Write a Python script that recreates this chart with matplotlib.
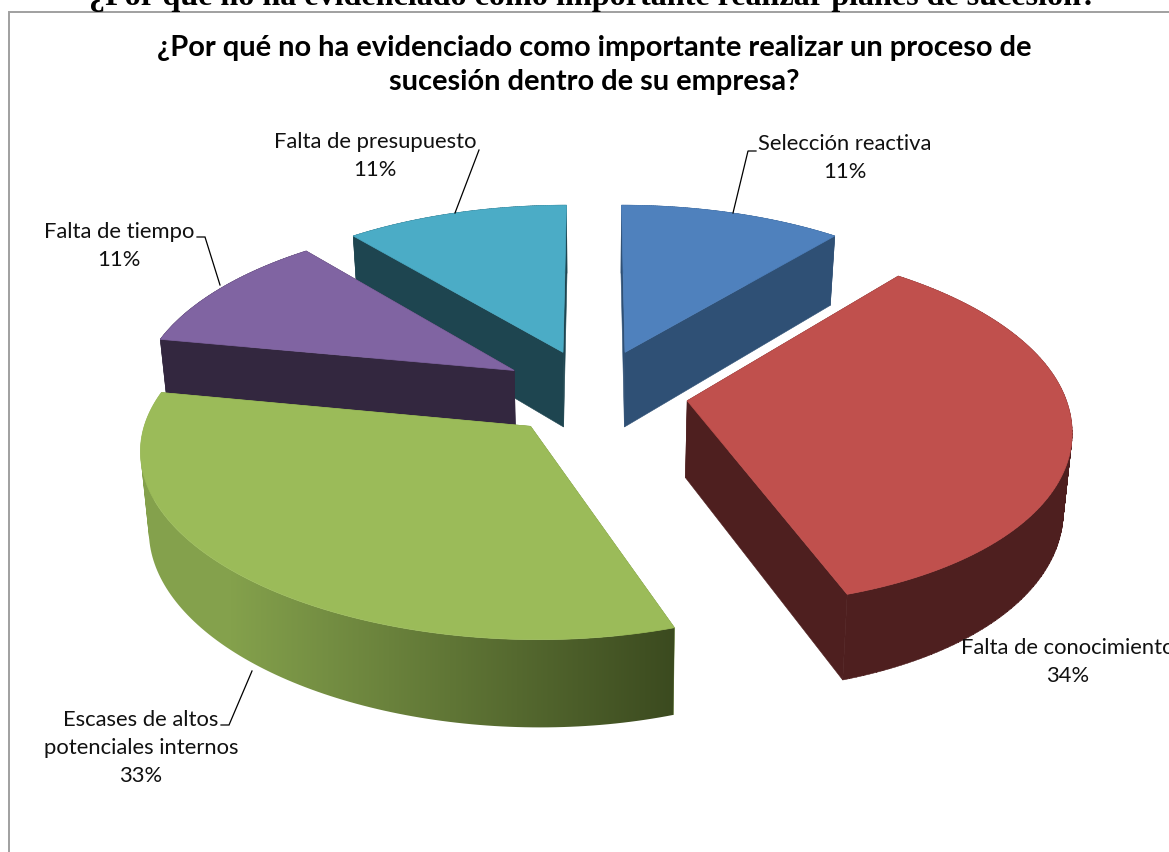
import numpy as np
import matplotlib
matplotlib.use("Agg")
import matplotlib.pyplot as plt
from matplotlib.patches import Polygon, Rectangle, PathPatch
from matplotlib.path import Path
from matplotlib.colors import to_rgb

# Survey answers, clockwise from twelve o'clock
categories = ["Selección reactiva", "Falta de conocimiento",
              "Escases de altos\npotenciales internos",
              "Falta de tiempo", "Falta de presupuesto"]
shares = [11, 34, 33, 11, 11]
top_colors = ["#4F81BD", "#C0504D", "#9BBB59", "#8064A2", "#4BACC6"]
wall_colors = ["#2F5075", "#4E1F1F", "#6B843D", "#33273F", "#1E4550"]

# Drawing order: far slices first so that near slices overlap them
paint_order = [4, 0, 3, 1, 2]

EXPLODE = 0.25
CX = 594.0
NEAR_SKEW = 13.0
TOP = dict(y0=392.5, gx=377.0, gy=176.0, persp=0.13)
BOTTOM = dict(y0=469.0, gx=370.0, gy=184.0, persp=0.13)


def project(u, v, plane):
    """Map pie-plane coordinates onto the canvas with a light perspective."""
    w = 1.0 + plane["persp"] * v
    skew = NEAR_SKEW * np.minimum(v, 0.0) ** 2
    return CX + plane["gx"] * u / w + skew, plane["y0"] - plane["gy"] * v / w


def slice_outline(start, stop, n=120):
    """Return apex and rim of one exploded slice in pie-plane coordinates."""
    mid = np.radians((start + stop) / 2)
    apex = EXPLODE * np.array([np.sin(mid), np.cos(mid)])
    theta = np.radians(np.linspace(start, stop, n))
    return apex, apex[0] + np.sin(theta), apex[1] + np.cos(theta)


def wall_path(tx, ty, bx, by):
    """Join top and bottom rims as one path of equally wound quads."""
    verts, codes = [], []
    for k in range(len(tx) - 1):
        quad = np.array([(tx[k], ty[k]), (tx[k + 1], ty[k + 1]),
                         (bx[k + 1], by[k + 1]), (bx[k], by[k])])
        x, y = quad[:, 0], quad[:, 1]
        area = np.sum(x * np.roll(y, -1) - np.roll(x, -1) * y)
        if area < 0:
            quad = quad[::-1]
        verts.extend(quad.tolist() + [quad[0].tolist()])
        codes.extend([Path.MOVETO, Path.LINETO, Path.LINETO, Path.LINETO, Path.CLOSEPOLY])
    return Path(verts, codes)


def blend(a, b, t):
    return tuple((1 - t) * p + t * q for p, q in zip(to_rgb(a), to_rgb(b)))


def green_shade(x):
    """Wall shading that darkens from left to right along the near rim."""
    t = np.clip((x - 230) / (675 - 230), 0, 1)
    return blend("#84A14C", "#3B4A1F", t)


fig = plt.figure(figsize=(11.69, 8.52), dpi=100)
ax = fig.add_axes([0, 0, 1, 1])
ax.set_xlim(0, 1169)
ax.set_ylim(852, 0)
ax.axis("off")

# Chart frame, running off the right and lower edges of the page
ax.add_patch(Rectangle((8.5, 11.5), 1300, 1000, fc="white", ec="#A0A0A0", lw=1.4, zorder=1))

ax.text(593, 5, "¿Por qué no ha evidenciado como importante realizar planes de sucesión?",
        family="Liberation Serif", weight="bold", size=23.1, ha="center",
        va="baseline", color="black", zorder=200)

ax.text(594, 65, "¿Por qué no ha evidenciado como importante realizar un proceso de\n"
        "sucesión dentro de su empresa?", family="Lato", weight="bold", size=20.9,
        ha="center", va="center", linespacing=1.42, color="black", zorder=200)

edges = np.concatenate([[0], np.cumsum(shares)]) * 3.6

z = 2
for i in paint_order:
    apex, ru, rv = slice_outline(edges[i], edges[i + 1])
    ax_t, ay_t = project(apex[0], apex[1], TOP)
    ax_b, ay_b = project(apex[0], apex[1], BOTTOM)
    tx, ty = project(ru, rv, TOP)
    bx, by = project(ru, rv, BOTTOM)
    wall = wall_colors[i]
    # Straight faces running from the apex out to each end of the rim
    for k in (0, -1):
        ax.add_patch(Polygon([(ax_t, ay_t), (tx[k], ty[k]), (bx[k], by[k]), (ax_b, ay_b)],
                             fc=wall, ec=wall, lw=0.4, zorder=z))
    # Curved outer wall; the green slice carries a horizontal shading
    rim = wall_path(tx, ty, bx, by)
    if i == 2:
        clip = PathPatch(rim, fc="none", ec="none")
        ax.add_patch(clip)
        columns = np.arange(100, 720)
        shade = np.array([green_shade(c) for c in columns])[np.newaxis, :, :]
        image = ax.imshow(shade, extent=(100, 720, 760, 380), aspect="auto", zorder=z + 1)
        image.set_clip_path(clip)
    else:
        ax.add_patch(PathPatch(rim, fc=wall, ec=wall, lw=0.4, zorder=z + 1))
    top = np.vstack([[ax_t, ay_t], np.column_stack([tx, ty])])
    ax.add_patch(Polygon(top, fc=top_colors[i], ec=top_colors[i], lw=0.5, zorder=z + 2))
    z += 3

ax.set_xlim(0, 1169)
ax.set_ylim(852, 0)

# Data labels
label_style = dict(family="Lato", size=15.8, ha="center", va="center",
                   color="#111111", linespacing=1.5, zorder=200)
label_pos = [(845, 157.5), (1068, 661.5), (141, 748), (119, 245.5), (375, 155.5)]
for name, share, (lx, ly) in zip(categories, shares, label_pos):
    ax.text(lx, ly, f"{name}\n{share}%", **label_style)

# Leader lines joining labels and slices
leaders = [
    [(733, 213), (748, 151), (756, 151)],
    [(455, 213), (479, 150)],
    [(220, 285), (205, 237), (197, 237)],
    [(252, 671), (229, 725), (221, 725)],
]
for path in leaders:
    xs, ys = zip(*path)
    ax.plot(xs, ys, color="black", lw=0.9, solid_joinstyle="miter", zorder=150)

fig.savefig("out.png", dpi=100)
